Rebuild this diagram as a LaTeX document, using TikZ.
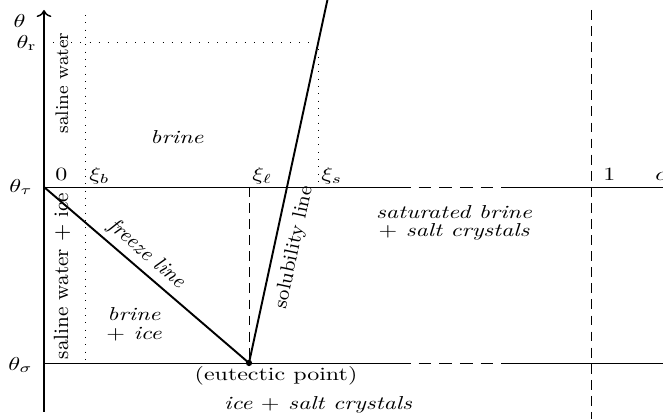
\documentclass[tikz,border=0pt]{standalone}
\usetikzlibrary{arrows.meta}
\begin{document}
\begin{tikzpicture}[x=0.41667pt, y=-0.41667pt,
  axisline/.style={semithick},
  hline/.style={line width=0.32pt},
  mainline/.style={thick},
  hdash/.style={dash pattern=on 5.3pt off 3.3pt},
  vdash/.style={dash pattern=on 4.1pt off 2.6pt},
  hdot/.style={dash pattern=on 0.4pt off 3.4pt},
  vdot/.style={dash pattern=on 0.35pt off 2.7pt},
  sq/.style={yscale=0.78},
  lbl/.style={sq, inner sep=0pt, anchor=base west},
  ylbl/.style={sq, inner sep=0pt, anchor=east},
  region/.style={sq, font=\itshape, align=center, inner sep=0pt},
  vtext/.style={rotate=90, inner sep=0pt}]
\useasboundingbox (0,0) rectangle (663,419);
% key coordinates
\coordinate (A0) at (44,412);
\coordinate (A1) at (44,10);
\coordinate (tauL) at (44,187);
\coordinate (tauD1) at (398,187);
\coordinate (tauD2) at (510,187);
\coordinate (tauR) at (663,187);
\coordinate (sigL) at (44,363);
\coordinate (sigD1) at (398,363);
\coordinate (sigD2) at (510,363);
\coordinate (sigR) at (663,363);
\coordinate (E) at (249,363);
\coordinate (solTop) at (327.4,0);
\coordinate (S) at (318.3,42);
\coordinate (xis) at (318.3,187);
\coordinate (rL) at (44,42);
\coordinate (xbTop) at (85,15);
\coordinate (xbBot) at (85,363);
\coordinate (xl) at (249,187);
\coordinate (oneTop) at (591,10);
\coordinate (oneBot) at (591,419);
% axis
\draw[axisline,->] (A0) -- (A1);
% horizontal lines
\draw[hline] (tauL) -- (tauD1);
\draw[hline,hdash] (tauD1) -- (tauD2);
\draw[hline] (tauD2) -- (tauR);
\draw[hline] (sigL) -- (sigD1);
\draw[hline,hdash] (sigD1) -- (sigD2);
\draw[hline] (sigD2) -- (sigR);
% dotted / dashed guides
\draw[hline,hdot] (rL) -- (S);
\draw[vdot] (S) -- (xis);
\draw[vdot] (xbTop) -- (xbBot);
\draw[vdash] (xl) -- (E);
\draw[vdash] (oneTop) -- (oneBot);
% freeze and solubility lines
\draw[mainline] (tauL) -- node[sloped, pos=0.45, above=2.2pt, inner sep=0pt, font=\fontsize{8.8}{10}\selectfont\itshape] (fl) {freeze line} (E);
\draw[mainline] (E) -- node[sloped, pos=0.33, below=4.1pt, inner sep=0pt, font=\fontsize{8.3}{10}\selectfont] (sl) {solubility line} (solTop);
\fill (E) circle (1.3pt);
% axis labels
\node[ylbl] (th) at (26,21) {$\theta$};
\node[ylbl] (thr) at (37,43) {$\theta_{\mathrm{r}}$};
\node[ylbl] (tht) at (33,187) {$\theta_\tau$};
\node[ylbl] (ths) at (33,365) {$\theta_\sigma$};
\node[lbl] (l0) at (55,181) {$0$};
\node[lbl] (lb) at (89,181) {$\xi_b$};
\node[lbl] (ll) at (252,181) {$\xi_\ell$};
\node[lbl] (ls) at (321,181) {$\xi_s$};
\node[lbl] (l1) at (603,181) {$1$};
\node[lbl] (lc) at (655,181) {$c$};
% region labels
\node[region] (brine) at (177,137) {brine};
\node[vtext, font=\fontsize{7.6}{9}\selectfont] (sw) at (62,83) {saline water};
\node[vtext, font=\fontsize{8.6}{10}\selectfont] (swi) at (62,276) {saline water $+$ ice};
\node[region] (sbsc) at (454,223) {saturated brine\\[-2pt]$+$ salt crystals};
\node[region] (bi) at (134,324) {brine\\[-2pt]$+$ ice};
\node[sq, inner sep=0pt] (ep) at (276,376) {(eutectic point)};
\node[region] (isc) at (318,405) {ice $+$ salt crystals};
\end{tikzpicture}
\end{document}
